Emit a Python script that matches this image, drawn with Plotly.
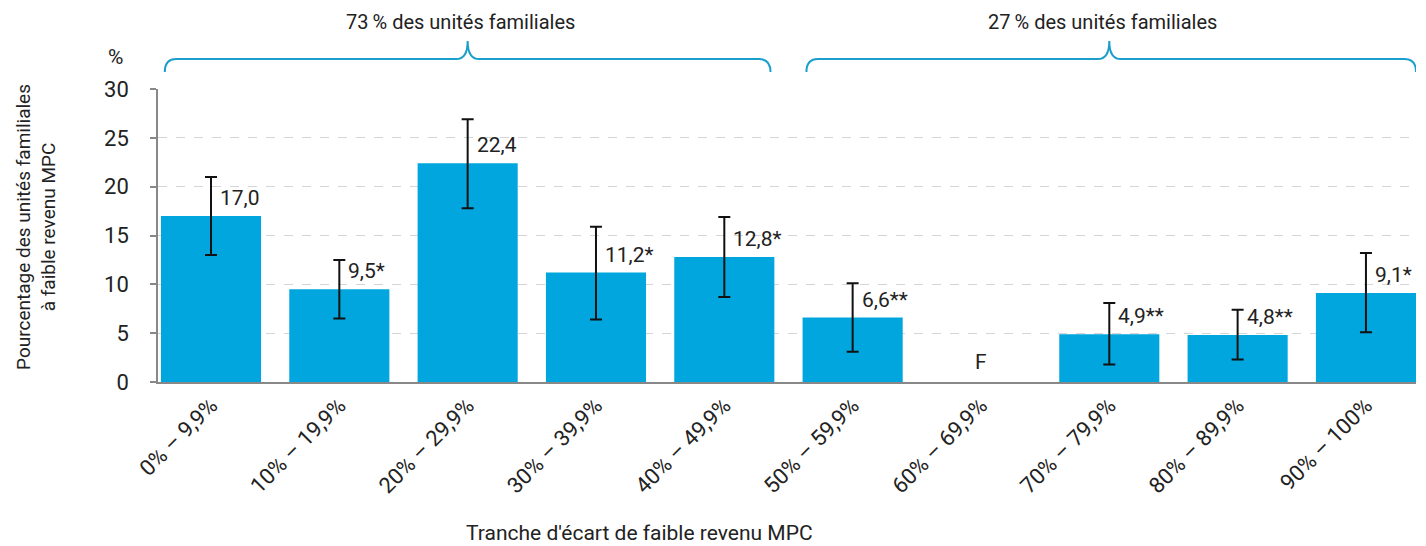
import plotly.graph_objects as go

categories = ["0% – 9,9%", "10% – 19,9%", "20% – 29,9%", "30% – 39,9%", "40% – 49,9%",
              "50% – 59,9%", "60% – 69,9%", "70% – 79,9%", "80% – 89,9%", "90% – 100%"]
values = [17.0, 9.5, 22.4, 11.2, 12.8, 6.6, None, 4.9, 4.8, 9.1]
err_plus = [4.0, 3.0, 4.5, 4.7, 4.1, 3.5, None, 3.2, 2.6, 4.1]
err_minus = [4.0, 3.0, 4.6, 4.8, 4.1, 3.5, None, 3.1, 2.5, 4.0]
value_labels = ["17,0", "9,5*", "22,4", "11,2*", "12,8*", "6,6**", "F", "4,9**", "4,8**", "9,1*"]
group_labels = ["73\u2009% des unités familiales", "27\u2009% des unités familiales"]
group_ranges = [(0, 4), (5, 9)]
y_ticks = [0, 5, 10, 15, 20, 25, 30]

FONT = "Roboto, sans-serif"
BAR = "#00A6DD"
BRACE = "#1A9FCC"
TXT = "#222222"

x_idx = list(range(len(categories)))

fig = go.Figure()
fig.add_trace(go.Bar(
    x=x_idx, y=values,
    marker=dict(color=BAR, line=dict(width=0)),
    width=0.78,
    error_y=dict(type="data", symmetric=False, array=err_plus, arrayminus=err_minus,
                 color="#111111", thickness=2, width=6),
    hoverinfo="skip",
))

annotations = []
for i, (v, lab) in enumerate(zip(values, value_labels)):
    if v is None:
        annotations.append(dict(x=i, y=0, xref="x", yref="y", text=lab, showarrow=False,
                                xanchor="center", yanchor="bottom", yshift=6,
                                font=dict(family=FONT, size=21, color=TXT)))
    else:
        annotations.append(dict(x=i, y=v, xref="x", yref="y", text=lab, showarrow=False,
                                xanchor="left", yanchor="bottom", xshift=7, yshift=4,
                                font=dict(family=FONT, size=21, color=TXT)))

shapes = []
half = 0.36
for (a, b), lab in zip(group_ranges, group_labels):
    x0 = a - half
    x1 = b + half + (0.03 if b == len(categories) - 1 else 0)
    xm = (a + b) / 2
    yb, yh, yp = 1.058, 1.102, 1.164
    dx = 0.09
    path = (f"M {x0},{yb} Q {x0},{yh} {x0+dx},{yh} L {xm-dx},{yh} Q {xm},{yh} {xm},{yp} "
            f"Q {xm},{yh} {xm+dx},{yh} L {x1-dx},{yh} Q {x1},{yh} {x1},{yb}")
    shapes.append(dict(type="path", path=path, xref="x", yref="paper",
                       line=dict(color=BRACE, width=2)))
    annotations.append(dict(x=xm, y=1.229, xref="x", yref="paper", text=lab, showarrow=False,
                            xanchor="center", yanchor="middle", xshift=-7,
                            font=dict(family=FONT, size=20, color=TXT)))

annotations.append(dict(x=-0.026, y=1.109, xref="paper", yref="paper", text="%", showarrow=False,
                        xanchor="right", yanchor="middle",
                        font=dict(family=FONT, size=21, color=TXT)))
annotations.append(dict(x=-0.097, y=0.529, xref="paper", yref="paper",
                        text="Pourcentage des unités familiales<br>à faible revenu MPC",
                        showarrow=False, textangle=-90, xanchor="center", yanchor="middle",
                        font=dict(family=FONT, size=19, color=TXT)))
annotations.append(dict(x=0.383, y=-0.515, xref="paper", yref="paper",
                        text="Tranche d'écart de faible revenu MPC",
                        showarrow=False, xanchor="center", yanchor="middle",
                        font=dict(family=FONT, size=21, color=TXT)))

# page body has an 8px margin: figure is shrunk so the plot area lands where the reference has it
fig.update_layout(
    width=1418, height=538,
    margin=dict(l=150, r=10, t=81, b=164),
    plot_bgcolor="white", paper_bgcolor="white",
    font=dict(family=FONT, size=21, color=TXT),
    showlegend=False,
    bargap=0.22,
    xaxis=dict(
        range=[-0.413, 9.39],
        tickmode="array", tickvals=x_idx, ticktext=categories,
        tickangle=-45, tickfont=dict(family=FONT, size=22, color=TXT),
        showline=True, linecolor="#888888", linewidth=2,
        showgrid=False, ticks="", zeroline=False,
    ),
    yaxis=dict(
        range=[0, 30], tickvals=y_ticks,
        tickfont=dict(family=FONT, size=22, color=TXT),
        showline=True, linecolor="#888888", linewidth=1.5,
        ticks="outside", ticklen=6, tickcolor="#888888", tickwidth=1.5,
        ticklabelstandoff=17,
        showgrid=True, gridcolor="#D5D5D5", griddash="dash", gridwidth=1,
        zeroline=False,
    ),
    annotations=annotations,
    shapes=shapes,
)

fig.write_html("out.html")
